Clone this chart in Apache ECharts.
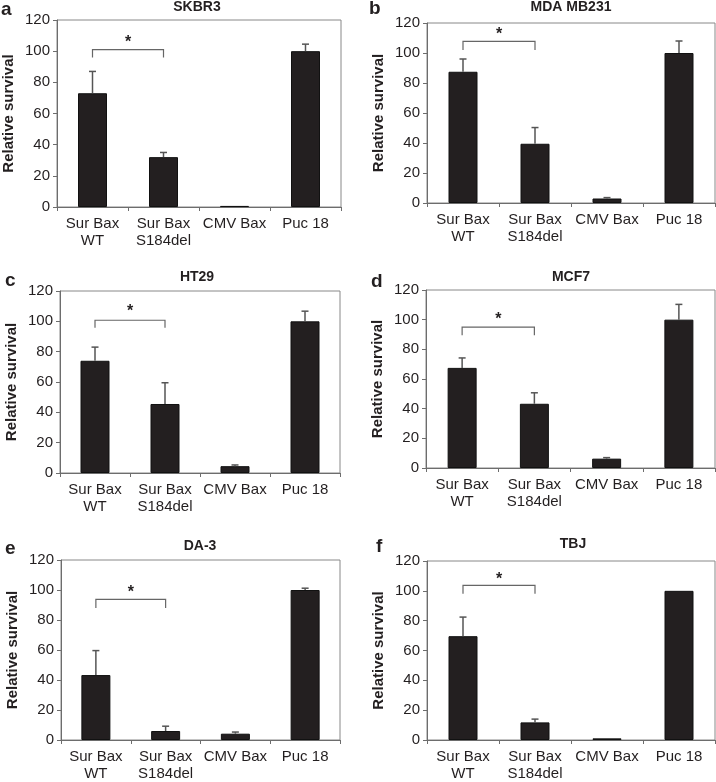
<!DOCTYPE html>
<html>
<head>
<meta charset="utf-8">
<script src="https://cdn.jsdelivr.net/npm/echarts@6/dist/echarts.min.js"></script>
<style>
  html, body { margin: 0; padding: 0; background: #fff; }
  #chart { width: 716px; height: 782px; }
</style>
</head>
<body>
<div id="chart"></div>
<script>
// 分类
const categories = ['Sur Bax\nWT', 'Sur Bax\nS184del', 'CMV Bax', 'Puc 18'];
const cellLines = ['SKBR3', 'MDA MB231', 'HT29', 'MCF7', 'DA-3', 'TBJ'];
const panelLetters = ['a', 'b', 'c', 'd', 'e', 'f'];

// 各细胞系的平均值和误差
const skbr3Mean = [73, 32, 0.7, 100];
const skbr3Err = [14, 3, 0.3, 4.5];
const mdaMean = [87.5, 39.5, 3, 100];
const mdaErr = [8.5, 10.8, 0.6, 8];
const ht29Mean = [74, 45.5, 4.5, 100];
const ht29Err = [9, 14, 0.8, 6.7];
const mcf7Mean = [67.5, 43.3, 6.3, 100];
const mcf7Err = [6.7, 7.4, 0.7, 10.3];
const da3Mean = [43.3, 6, 4.2, 100];
const da3Err = [16.3, 3.2, 1.1, 1.2];
const tbjMean = [69.6, 11.8, 1.1, 100];
const tbjErr = [12.8, 2.2, 0, 0];

// 显著性括号 (顶部, 下端, 星号)
const bracketTop = [101, 107.7, 100.7, 95, 93.7, 103.6];
const bracketEnd = [96, 102, 95.7, 89.5, 88, 98];
const starValue = [107.6, 114.4, 108.4, 102, 100, 109.6];

const means = [skbr3Mean, mdaMean, ht29Mean, mcf7Mean, da3Mean, tbjMean];
const errs = [skbr3Err, mdaErr, ht29Err, mcf7Err, da3Err, tbjErr];

// 布局
const boxes = [
  { left: 57, top: 20, width: 284, height: 187 },
  { left: 427, top: 23, width: 288, height: 180 },
  { left: 60, top: 291, width: 280, height: 182 },
  { left: 426, top: 290, width: 289, height: 178 },
  { left: 61, top: 560, width: 279, height: 183 },
  { left: 427, top: 561, width: 288, height: 180 }
];
const titlePos = [[197, 7.5], [571, 7], [197, 277], [571, 277.5], [200, 546], [573, 544]];
const letterPos = [[1, 10], [369, 9], [5, 281], [371, 282], [5, 549], [376, 547]];

const FONT = '"Liberation Sans", Arial, Helvetica, sans-serif';
const INK = '#231f20';
const LINE = '#6d6d6d';

const chart = echarts.init(document.getElementById('chart'));

const grid = [], xAxis = [], yAxis = [], series = [], graphic = [];

boxes.forEach((b, i) => {
  grid.push({
    left: b.left, top: b.top, width: b.width, height: b.height,
    show: true, borderColor: '#888', borderWidth: 1, backgroundColor: 'transparent'
  });
  xAxis.push({
    type: 'category', gridIndex: i, data: categories,
    axisLine: { lineStyle: { color: LINE, width: 1 } },
    axisTick: { show: true, length: 4, lineStyle: { color: LINE } },
    axisLabel: { fontFamily: FONT, fontSize: 15, color: INK, lineHeight: 17, margin: 8, interval: 0 }
  });
  yAxis.push({
    type: 'value', gridIndex: i, min: 0, max: 120, interval: 20,
    name: 'Relative survival', nameLocation: 'middle', nameGap: 41,
    nameTextStyle: { fontFamily: FONT, fontSize: 15, fontWeight: 'bold', color: INK },
    axisLine: { show: true, lineStyle: { color: LINE, width: 1 } },
    axisTick: { show: true, length: 4, lineStyle: { color: LINE } },
    splitLine: { show: false },
    axisLabel: { fontFamily: FONT, fontSize: 15, color: INK, margin: 7 }
  });

  series.push({
    type: 'bar', xAxisIndex: i, yAxisIndex: i, data: means[i], barWidth: 29,
    itemStyle: { color: INK, borderColor: '#111', borderWidth: 1 },
    silent: true, animation: false, z: 2
  });

  series.push({
    type: 'custom', xAxisIndex: i, yAxisIndex: i, animation: false, silent: true, z: 3,
    data: means[i].map((m, j) => [j, m, m + errs[i][j]]),
    renderItem: (params, api) => {
      const p0 = api.coord([api.value(0), api.value(1)]);
      const p1 = api.coord([api.value(0), api.value(2)]);
      if (p0[1] - p1[1] < 0.5) return null;
      const st = { stroke: '#555', lineWidth: 1.5 };
      return {
        type: 'group',
        children: [
          { type: 'line', shape: { x1: p0[0], y1: p0[1], x2: p1[0], y2: p1[1] }, style: st },
          { type: 'line', shape: { x1: p1[0] - 3.5, y1: p1[1], x2: p1[0] + 3.5, y2: p1[1] }, style: st }
        ]
      };
    }
  });

  series.push({
    type: 'custom', xAxisIndex: i, yAxisIndex: i, animation: false, silent: true, z: 3,
    data: [[0, bracketTop[i], bracketEnd[i], starValue[i]]],
    renderItem: (params, api) => {
      const l = api.coord([0, api.value(1)]);
      const r = api.coord([1, api.value(1)]);
      const yEnd = api.coord([0, api.value(2)])[1];
      const ys = api.coord([0, api.value(3)])[1];
      return {
        type: 'group',
        children: [
          { type: 'polyline', shape: { points: [[l[0], yEnd], [l[0], l[1]], [r[0], r[1]], [r[0], yEnd]] },
            style: { stroke: '#666', lineWidth: 1.2, fill: 'none' } },
          { type: 'text', x: (l[0] + r[0]) / 2, y: ys + 3,
            style: { text: '*', font: 'bold 16px ' + FONT, fill: INK, align: 'center', verticalAlign: 'middle' } }
        ]
      };
    }
  });

  graphic.push({
    type: 'text', x: titlePos[i][0], y: titlePos[i][1], silent: true,
    style: { text: cellLines[i], font: 'bold 14px ' + FONT, fill: INK, align: 'center', verticalAlign: 'middle' }
  });
  graphic.push({
    type: 'text', x: letterPos[i][0], y: letterPos[i][1], silent: true,
    style: { text: panelLetters[i], font: 'bold 19px ' + FONT, fill: INK, align: 'left', verticalAlign: 'middle' }
  });
});

chart.setOption({
  animation: false,
  backgroundColor: '#fff',
  grid, xAxis, yAxis, series, graphic
});
</script>
</body>
</html>
